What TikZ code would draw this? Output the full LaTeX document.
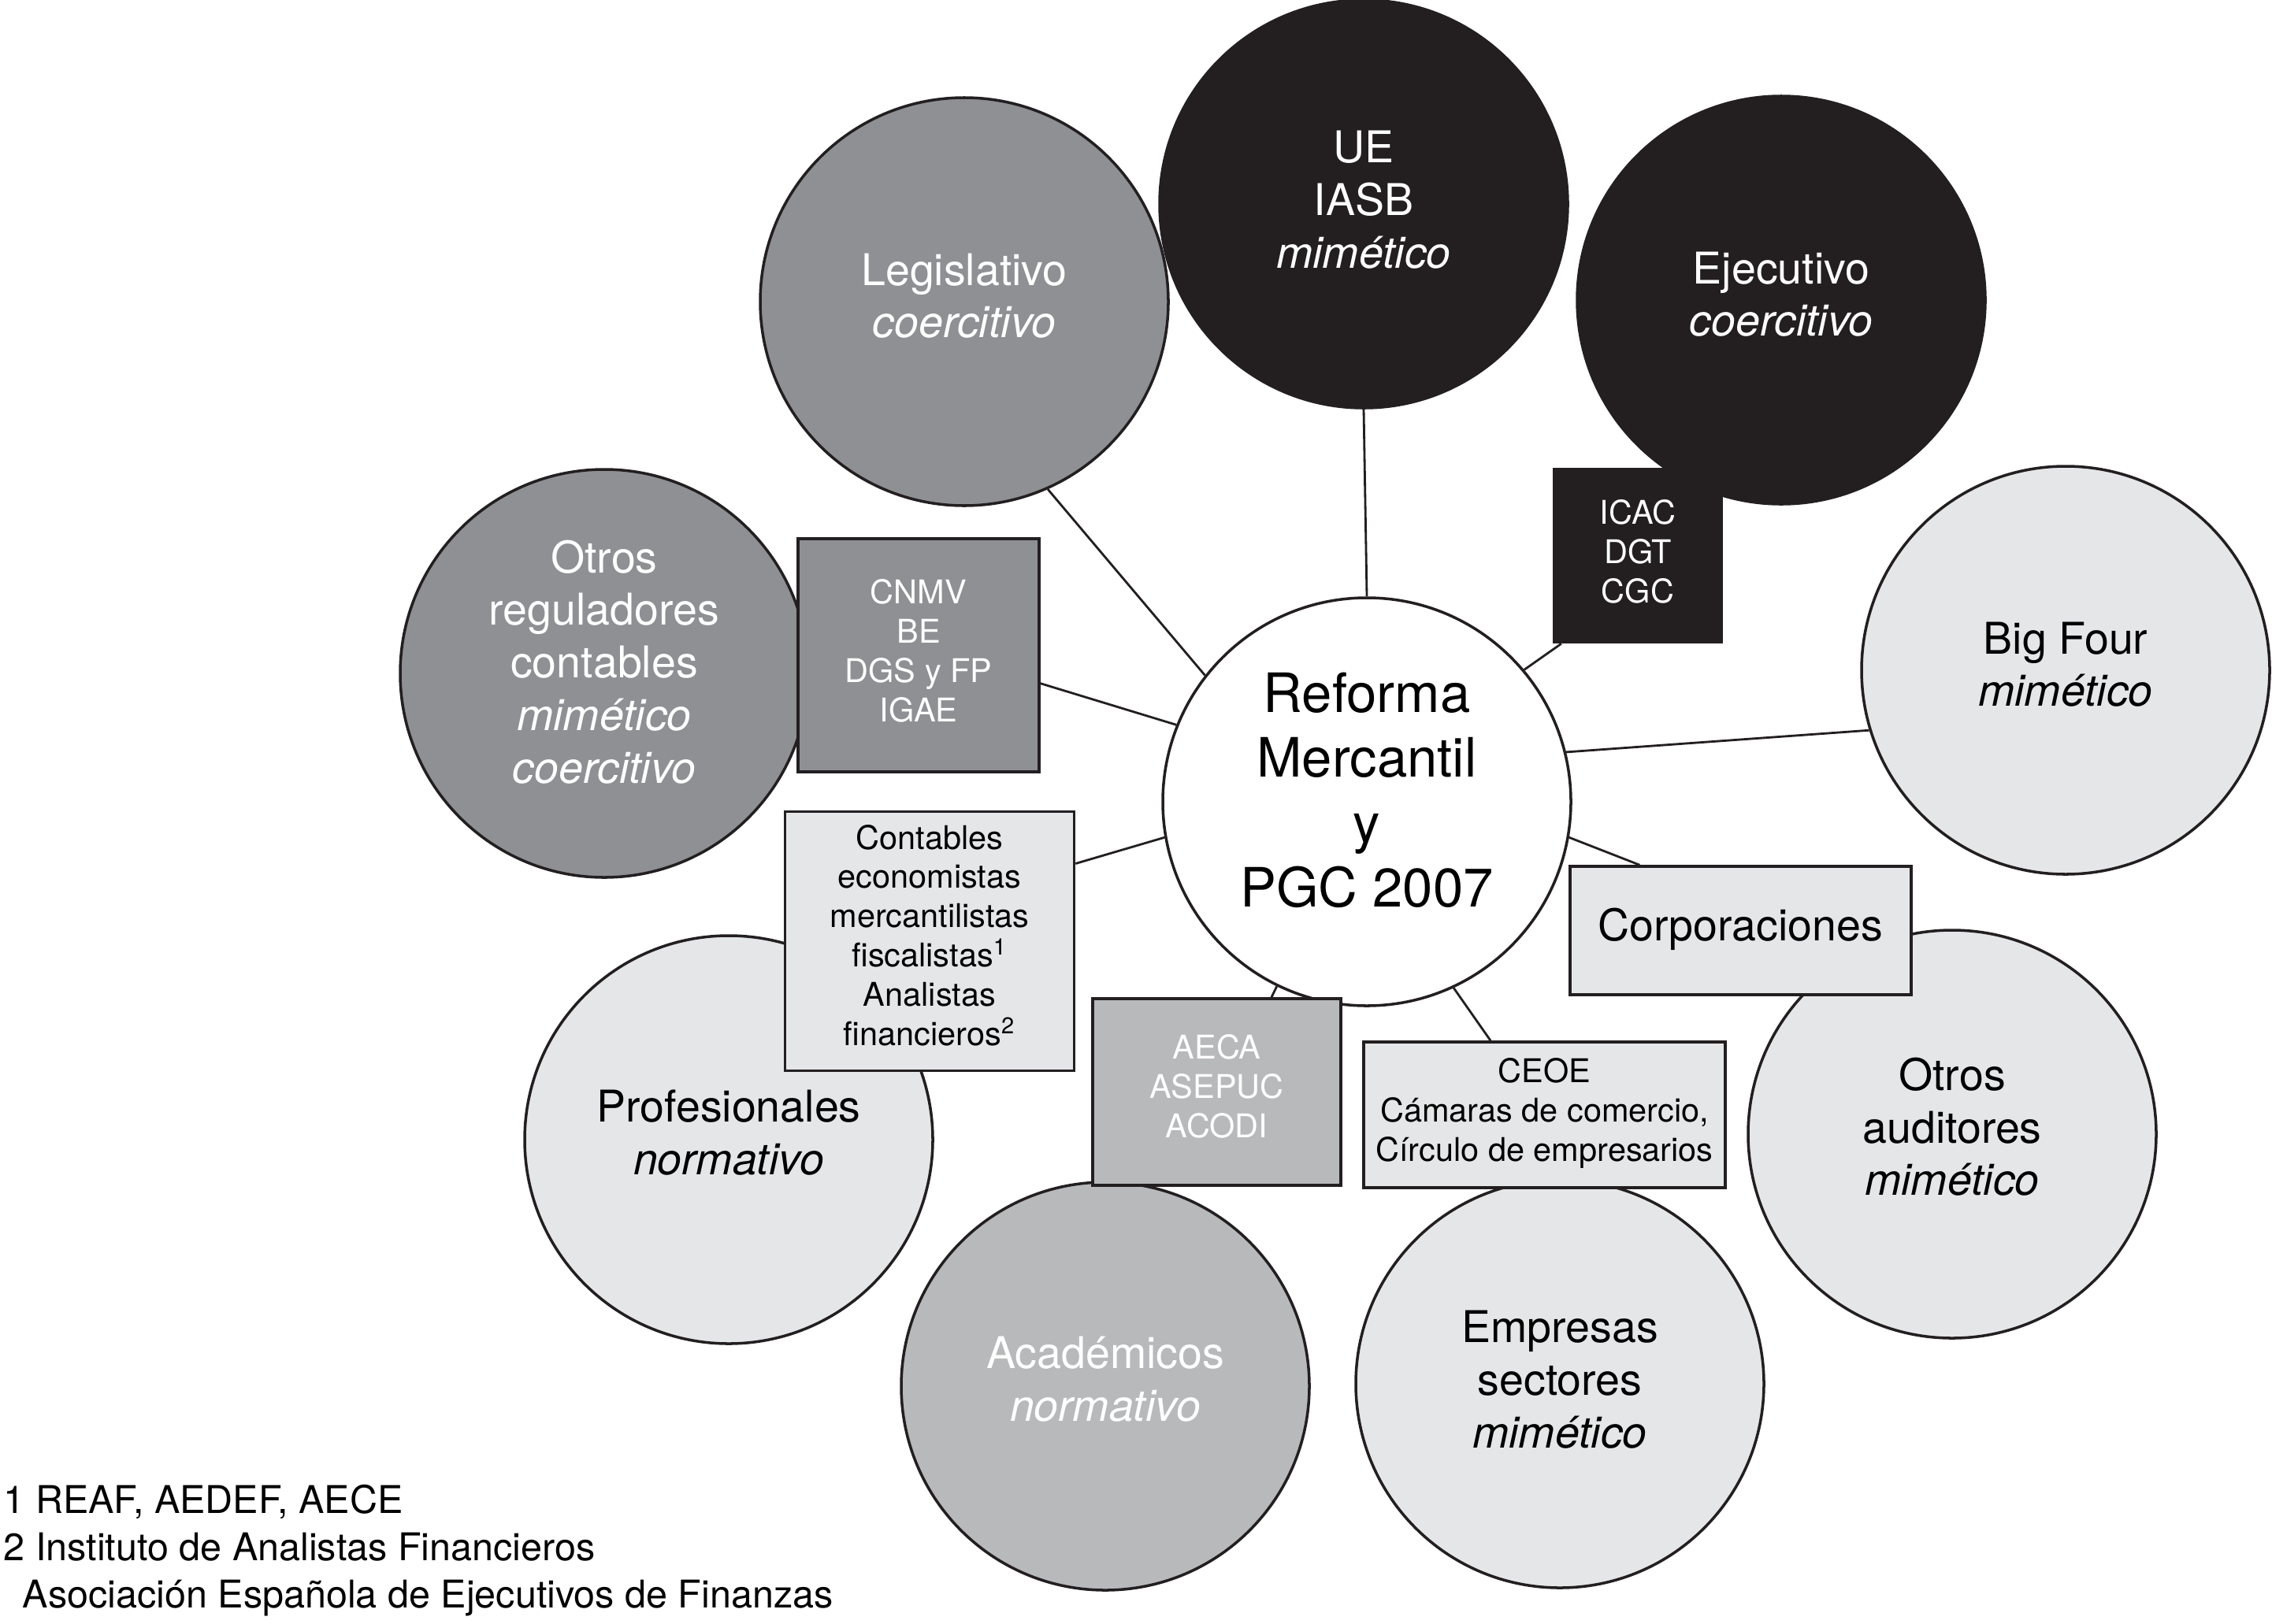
\documentclass[tikz,border=0pt]{standalone}
\usepackage{fontspec}
\setmainfont{TeX Gyre Heros}
\usepackage{xcolor}

\definecolor{darkfill}{RGB}{142,144,147}
\definecolor{midfill}{RGB}{184,185,187}
\definecolor{lightfill}{RGB}{229,230,231}
\definecolor{inkblack}{RGB}{35,31,32}

\begin{document}
\begin{tikzpicture}[
  actor/.style={circle, draw=inkblack, line width=1pt, minimum size=5.18cm, inner sep=0pt},
  agency/.style={rectangle, draw=inkblack, line width=1pt, inner sep=0pt},
  actortext/.style={inner sep=0pt, align=center, font=\fontsize{15.8}{19}\selectfont},
  agencytext/.style={inner sep=0pt, align=center, font=\fontsize{11.8}{14.2}\selectfont},
  link/.style={draw=inkblack, line width=0.8pt},
  note/.style={anchor=base west, inner sep=0pt, font=\fontsize{13.8}{17}\selectfont}
]
\useasboundingbox (0,0) rectangle (28.84,-20.61);

%circles
\node[actor, fill=inkblack] (ue) at (17.31,-2.59) {};
\node[actor, fill=darkfill] (legis) at (12.24,-3.83) {};
\node[actor, fill=inkblack] (ejec) at (22.61,-3.81) {};
\node[actor, fill=darkfill] (otrosreg) at (7.67,-8.55) {};
\node[actor, fill=lightfill] (bigfour) at (26.22,-8.51) {};
\node[actor, fill=lightfill] (prof) at (9.25,-14.47) {};
\node[actor, fill=midfill] (acad) at (14.03,-17.60) {};
\node[actor, fill=lightfill] (empresas) at (19.80,-17.57) {};
\node[actor, fill=lightfill] (otrosaud) at (24.78,-14.40) {};
\node[actor, fill=white] (reforma) at (17.35,-10.18) {};

%circle texts
\node[actortext, text=white] (uetext) at ([yshift=0.055cm]ue) {UE\\IASB\\\textit{mimético}};
\node[actortext, text=white] (legistext) at ([yshift=0.074cm]legis) {Legislativo\\\textit{coercitivo}};
\node[actortext, text=white] (ejectext) at ([yshift=0.074cm]ejec) {Ejecutivo\\\textit{coercitivo}};
\node[actortext, text=white] (otrosregtext) at ([yshift=0.147cm]otrosreg)
  {Otros\\reguladores\\contables\\\textit{mimético}\\\textit{coercitivo}};
\node[actortext] (bigfourtext) at ([yshift=0.074cm]bigfour) {Big Four\\\textit{mimético}};
\node[actortext] (proftext) at ([yshift=0.092cm]prof) {Profesionales\\\textit{normativo}};
\node[actortext, text=white] (acadtext) at ([yshift=0.092cm]acad) {Académicos\\\textit{normativo}};
\node[actortext] (empresastext) at ([yshift=0.055cm]empresas) {Empresas\\sectores\\\textit{mimético}};
\node[actortext] (otrosaudtext) at ([yshift=0.092cm]otrosaud) {Otros\\auditores\\\textit{mimético}};
\node[actortext, font=\fontsize{19.6}{23.5}\selectfont] (reformatext) at ([yshift=0.147cm]reforma)
  {Reforma\\Mercantil\\y\\PGC 2007};

%boxes
\node[agency, fill=darkfill, minimum width=3.06cm, minimum height=2.96cm] (cnmv) at (11.66,-8.32) {};
\node[agency, fill=inkblack, minimum width=2.12cm, minimum height=2.20cm] (icac) at (20.79,-7.055) {};
\node[agency, fill=lightfill, minimum width=3.67cm, minimum height=3.29cm] (contables) at (11.80,-11.95) {};
\node[agency, fill=midfill, minimum width=3.15cm, minimum height=2.37cm] (aeca) at (15.445,-13.865) {};
\node[agency, fill=lightfill, minimum width=4.59cm, minimum height=1.85cm] (ceoe) at (19.605,-14.155) {};
\node[agency, fill=lightfill, minimum width=4.33cm, minimum height=1.63cm] (corp) at (22.095,-11.815) {};

%box texts
\node[agencytext, text=white] (cnmvtext) at ([yshift=0.055cm]cnmv) {CNMV\\BE\\DGS y FP\\IGAE};
\node[agencytext, text=white] (icactext) at ([yshift=0.055cm]icac) {ICAC\\DGT\\CGC};
\node[agencytext] (contablestext) at ([yshift=0.074cm]contables)
  {Contables\\economistas\\mercantilistas\\fiscalistas\textsuperscript{1}\\Analistas\\financieros\textsuperscript{2}};
\node[agencytext, text=white] (aecatext) at ([yshift=0.074cm]aeca) {AECA\\ASEPUC\\ACODI};
\node[agencytext] (ceoetext) at ([yshift=0.02cm]ceoe) {CEOE\\Cámaras de comercio,\\Círculo de empresarios};
\node[actortext] (corptext) at ([yshift=0.02cm]corp) {Corporaciones};

%links
\draw[link] (ue.south) -- (reforma.north);
\draw[link] (legis.-66) -- (reforma.142);
\draw[link] (cnmv.-13) -- (reforma.158);
\draw[link] (contables.28) -- (reforma.190);
\draw[link] (aeca.60) -- (reforma.244);
\draw[link] (ceoe.126) -- (reforma.-65);
\draw[link] (corp.147) -- (reforma.-10);
\draw[link] (bigfour.197) -- (reforma.14);
\draw[link] (icac.229) -- (reforma.40);

%notes
\node[note] (note1) at (0.04,-19.21) {1 REAF, AEDEF, AECE};
\node[note] (note2) at (0.04,-19.81) {2 Instituto de Analistas Financieros};
\node[note] (note3) at (0.28,-20.41) {Asociación Española de Ejecutivos de Finanzas};

\end{tikzpicture}
\end{document}
